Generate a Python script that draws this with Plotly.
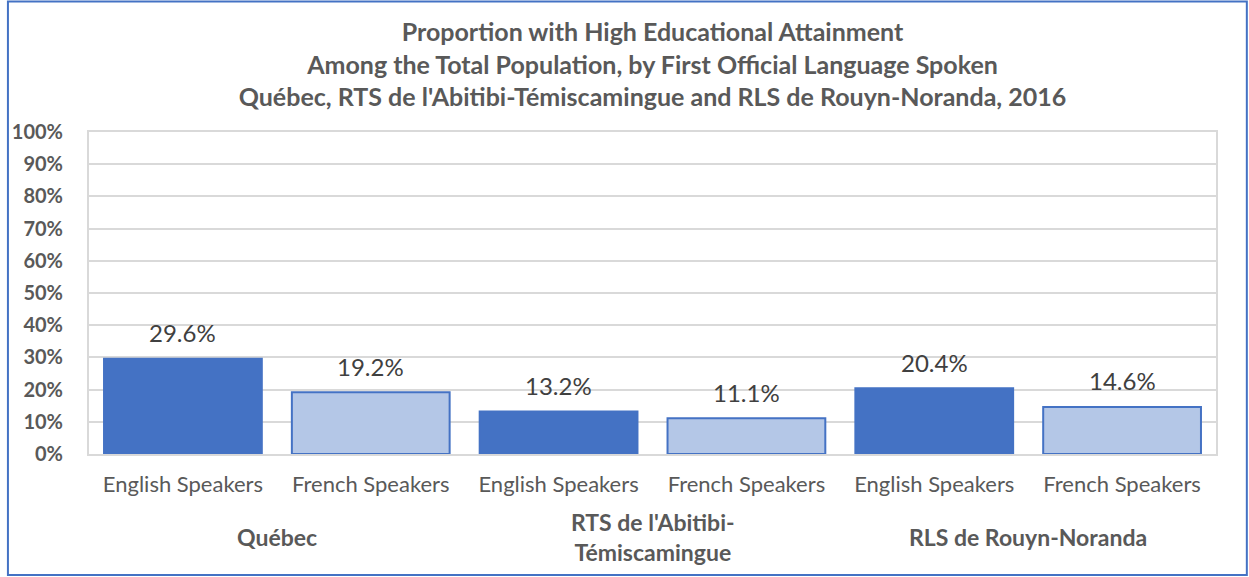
import plotly.graph_objects as go

categories = ["English Speakers", "French Speakers", "English Speakers", "French Speakers", "English Speakers", "French Speakers"]
groups = ["Québec", "RTS de l'Abitibi-<br>Témiscamingue", "RLS de Rouyn-Noranda"]
values = [29.6, 19.2, 13.2, 11.1, 20.4, 14.6]
labels = ["29.6%", "19.2%", "13.2%", "11.1%", "20.4%", "14.6%"]
ytick_vals = [0, 10, 20, 30, 40, 50, 60, 70, 80, 90, 100]
ytick_text = ["0%", "10%", "20%", "30%", "40%", "50%", "60%", "70%", "80%", "90%", "100%"]

DARK = "#4472C4"
LIGHT = "#B4C7E7"
GRAY = "#595959"
FONT = "Lato"

x = list(range(len(categories)))
fills = [DARK if i % 2 == 0 else LIGHT for i in x]

fig = go.Figure()
fig.add_trace(go.Bar(
    x=x, y=values,
    marker=dict(color=fills, line=dict(color=DARK, width=2)),
    width=0.84,
    hoverinfo="skip",
))

W, H = 1249, 577
ml, mr, mt, mb = 83, 33, 132, 123
pw = W - ml - mr
ph = H - mt - mb

annotations = []
for xi, v, t in zip(x, values, labels):
    annotations.append(dict(x=xi, y=v, xref="x", yref="y", text=t, showarrow=False,
                            yshift=26, font=dict(family=FONT, size=24, color="#404040")))
for gi, g in enumerate(groups):
    py = 537
    annotations.append(dict(x=gi * 2 + 0.5, y=(H - mb - py) / ph, xref="x", yref="paper",
                            text="<b>" + g + "</b>", showarrow=False,
                            font=dict(family=FONT, size=23, color=GRAY), yanchor="middle"))

fig.update_layout(
    width=W, height=H,
    margin=dict(l=ml, r=mr, t=mt, b=mb),
    paper_bgcolor="white", plot_bgcolor="white",
    showlegend=False,
    title=dict(
        text="<b>Proportion with High Educational Attainment<br>Among the Total Population, by First Official Language Spoken<br>Québec, RTS de l'Abitibi-Témiscamingue and RLS de Rouyn-Noranda, 2016</b>",
        x=0.5, xanchor="center", xref="paper", y=1 - 41 / H, yanchor="middle",
        font=dict(family=FONT, size=25, color=GRAY),
    ),
    xaxis=dict(
        tickmode="array", tickvals=x, ticktext=categories,
        range=[-0.5, 5.5], showgrid=False, zeroline=False,
        showline=True, mirror=True, linecolor="#D9D9D9", linewidth=2,
        ticks="", tickfont=dict(family=FONT, size=22, color=GRAY),
        ticklabelstandoff=10,
    ),
    yaxis=dict(
        range=[0, 100], tickmode="array", tickvals=ytick_vals,
        ticktext=["<b>" + t + "</b>" for t in ytick_text],
        showgrid=True, gridcolor="#D9D9D9", gridwidth=2, zeroline=False,
        showline=True, mirror=True, linecolor="#D9D9D9", linewidth=2,
        ticks="", tickfont=dict(family=FONT, size=20, color=GRAY),
        ticklabelstandoff=20,
    ),
    annotations=annotations,
    shapes=[dict(type="rect", xref="paper", yref="paper",
                 x0=(1.5 - ml) / pw, x1=(W - 2 - ml) / pw,
                 y0=(H - mb - (H - 2)) / ph, y1=(H - mb - 1.5) / ph,
                 line=dict(color=DARK, width=2), layer="above")],
)

fig.write_html("out.html", config={"displayModeBar": False},
               post_script="document.body.style.margin='0';document.body.style.overflow='hidden';")
